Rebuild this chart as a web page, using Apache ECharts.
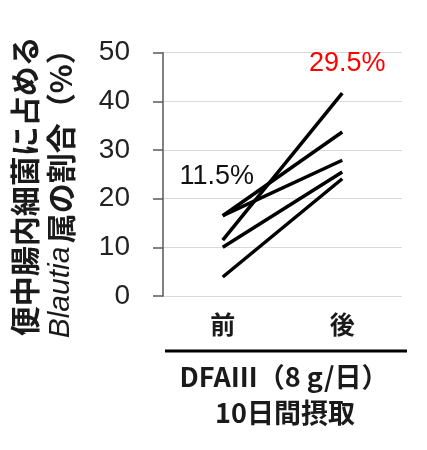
<!DOCTYPE html>
<html>
<head>
<meta charset="utf-8">
<script src="https://cdn.jsdelivr.net/npm/echarts@6/dist/echarts.min.js"></script>
<style>
  html, body { margin: 0; padding: 0; background: #fff; }
  #main { width: 427px; height: 450px; }
</style>
</head>
<body>
<div id="main"></div>
<script>
var categories = ['前', '後'];
// 被験者ごとの Blautia 属の割合（%）
var before = [16.5, 16.5, 11.5, 10.0, 3.9];
var after = [27.9, 33.7, 41.7, 25.5, 24.1];
var meanValues = [11.5, 29.5];
var yTicks = [0, 50, 10];

var myChart = echarts.init(document.getElementById('main'));

var jpFont = '"Noto Sans CJK JP", sans-serif';
var numFont = '"Liberation Sans", Arial, sans-serif';

var series = before.map(function (v, i) {
    return {
        type: 'line',
        data: [v, after[i]],
        symbol: 'none',
        lineStyle: { color: '#000', width: 3.5 },
        silent: true
    };
});

// 平均値のラベル
series.push({
    type: 'scatter',
    symbolSize: 0,
    silent: true,
    itemStyle: { opacity: 1 },
    data: [
        { value: [0, meanValues[0]], label: { color: '#111', offset: [-6, -63] } },
        { value: [1, meanValues[1]], label: { color: '#ff0000', offset: [5, -89] } }
    ],
    label: {
        show: true,
        position: 'inside',
        fontSize: 27,
        fontFamily: numFont,
        textBorderWidth: 0,
        opacity: 1,
        formatter: function (p) { return p.value[1].toFixed(1) + '%'; }
    }
});

var option = {
    animation: false,
    grid: { left: 163, top: 52.7, right: 25, bottom: 154 },
    xAxis: {
        type: 'category',
        data: categories,
        axisLine: { show: false },
        axisTick: { show: false },
        axisLabel: {
            margin: 16,
            fontSize: 25,
            fontWeight: 'bold',
            color: '#1a1a1a',
            fontFamily: jpFont
        }
    },
    yAxis: {
        type: 'value',
        min: yTicks[0],
        max: yTicks[1],
        interval: yTicks[2],
        axisLine: { show: true, lineStyle: { color: '#595959', width: 1.5 } },
        axisTick: { show: true, length: 10, lineStyle: { color: '#595959', width: 1.5 } },
        axisLabel: { margin: 33, fontSize: 28, color: '#222', fontFamily: numFont },
        splitLine: { lineStyle: { color: '#d9d9d9', width: 1 } },
        name: '{a|便中腸内細菌に占める}\n{i|Blautia} {a|属の割合（%）}',
        nameLocation: 'middle',
        nameRotate: 90,
        nameGap: 84,
        nameTextStyle: {
            padding: [0, 24, 0, 0],
            rich: {
                a: { fontSize: 30, fontWeight: 'bold', color: '#1a1a1a', fontFamily: jpFont, lineHeight: 36 },
                i: { fontSize: 30, fontStyle: 'italic', color: '#1a1a1a', fontFamily: numFont, lineHeight: 36 }
            }
        }
    },
    graphic: [
        {
            type: 'line',
            shape: { x1: 165, y1: 351, x2: 407, y2: 351 },
            style: { stroke: '#000', lineWidth: 3 }
        },
        {
            type: 'text',
            x: 284, y: 377,
            style: {
                text: 'DFAⅢ（8 g/日）',
                font: 'bold 27px ' + jpFont,
                fill: '#1a1a1a',
                align: 'center',
                verticalAlign: 'middle'
            }
        },
        {
            type: 'text',
            x: 285, y: 413,
            style: {
                text: '10日間摂取',
                font: 'bold 27px ' + jpFont,
                fill: '#1a1a1a',
                align: 'center',
                verticalAlign: 'middle'
            }
        }
    ],
    series: series
};

myChart.setOption(option);
</script>
</body>
</html>
